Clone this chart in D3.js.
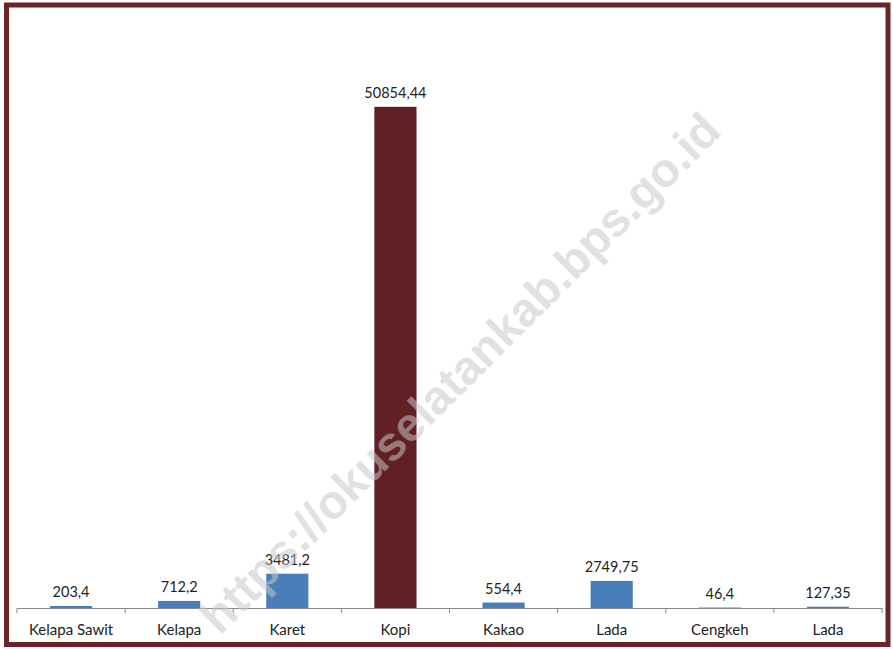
<!DOCTYPE html>
<html><head><meta charset="utf-8">
<script src="https://cdn.jsdelivr.net/npm/d3@7"></script>
<style>body{margin:0;background:#fff}svg{display:block}</style>
</head><body>
<svg id="chart" width="893" height="649"></svg>
<script>
const categories = ["Kelapa Sawit","Kelapa","Karet","Kopi","Kakao","Lada","Cengkeh","Lada"];
const values = [203.4, 712.2, 3481.2, 50854.44, 554.4, 2749.75, 46.4, 127.35];
const valueLabels = ["203,4","712,2","3481,2","50854,44","554,4","2749,75","46,4","127,35"];
const highlight = "Kopi";
const watermark = "https://okuselatankab.bps.go.id";

(function () {
const svg = d3.select("#chart");
const W = 893, H = 649;
const plotLeft = 17, plotRight = 882, axisY = 608, plotTop = 66;
const font = "Lato, 'Open Sans', sans-serif";

svg.append("rect").attr("width", W).attr("height", H).attr("fill", "#fff");

const idx = d3.range(categories.length);
const x = d3.scaleBand().domain(idx).range([plotLeft, plotRight]).paddingInner(0.61).paddingOuter(0.305);
const xb = d3.scaleBand().domain(idx).range([plotLeft, plotRight]);
const y = d3.scaleLinear().domain([0, 55000]).range([axisY, plotTop]);

// bars
svg.append("g").selectAll("rect").data(idx).join("rect")
  .attr("x", i => x(i))
  .attr("width", x.bandwidth())
  .attr("y", i => y(values[i]))
  .attr("height", i => Math.max(1, axisY - y(values[i])))
  .attr("fill", i => categories[i] === highlight ? "#612024" : "#4a7ebb");

// value labels
svg.append("g").selectAll("text").data(idx).join("text")
  .attr("x", i => xb(i) + xb.bandwidth() / 2)
  .attr("y", i => y(values[i]) - 9)
  .attr("text-anchor", "middle")
  .attr("font-family", font).attr("font-size", 14.5).attr("fill", "#222")
  .text(i => valueLabels[i]);

// axis
const axis = d3.axisBottom(xb).tickSize(0).tickFormat(i => categories[i]);
const g = svg.append("g").attr("transform", `translate(0,${axisY})`).call(axis);
g.select(".domain").attr("stroke", "#8a8a8a");
g.selectAll(".tick text").attr("font-family", font).attr("font-size", 15).attr("fill", "#222").attr("dy", 0).attr("y", 27);
// tick marks at band boundaries
svg.append("g").selectAll("line").data(d3.range(categories.length + 1)).join("line")
  .attr("x1", i => plotLeft + i * xb.step()).attr("x2", i => plotLeft + i * xb.step())
  .attr("y1", axisY).attr("y2", axisY + 5)
  .attr("stroke", "#8a8a8a");

// watermark
const wm = svg.append("text")
  .attr("transform", "translate(460,373) rotate(-45)")
  .attr("text-anchor", "middle").attr("dominant-baseline", "central")
  .attr("font-family", "'Liberation Sans', Arial, sans-serif").attr("font-weight", "bold")
  .attr("font-size", 40).attr("fill", "#c8c8c8").attr("fill-opacity", 0.55)
  .text(watermark);
const len = wm.node().getComputedTextLength();
wm.attr("font-size", 40 * 712 / len);

// frame
svg.append("rect").attr("x", 6.5).attr("y", 5).attr("width", 881.5).attr("height", 639.5)
  .attr("fill", "none").attr("stroke", "#6a2426").attr("stroke-width", 5);
})();
</script>
</body></html>
